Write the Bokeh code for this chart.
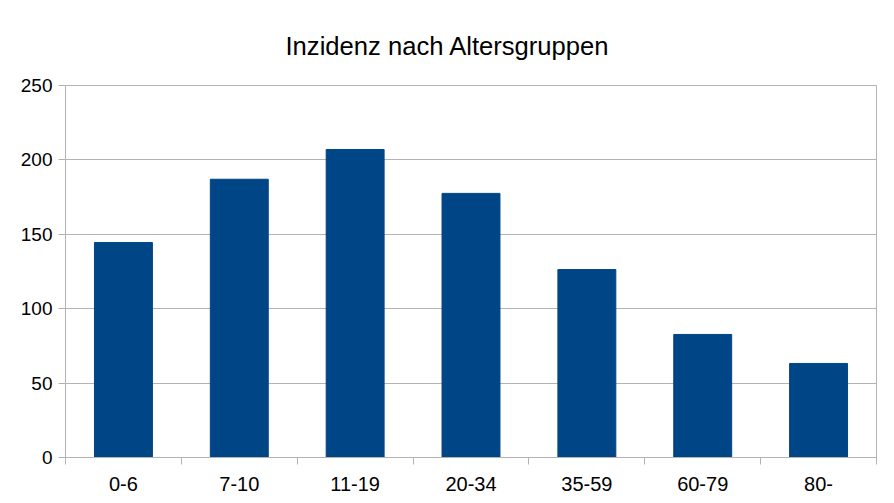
from bokeh.plotting import figure
from bokeh.models import FixedTicker, Range1d, ColumnDataSource
from bokeh.embed import file_html
from bokeh.resources import INLINE

categories = ["0-6", "7-10", "11-19", "20-34", "35-59", "60-79", "80-"]
values = [144.5, 187, 207, 177.5, 126.3, 82.7, 63.2]
y_ticks = [0, 50, 100, 150, 200, 250]

xpos = [i + 0.5 for i in range(len(categories))]
src = ColumnDataSource(dict(x=xpos, top=values, cat=categories))

GRID = "#b3b3b3"
FONT = "Liberation Sans"

p = figure(width=886, height=495, output_backend="svg", toolbar_location=None,
           x_range=Range1d(0, len(categories)), y_range=Range1d(0, 250),
           min_border_left=65, min_border_right=10, min_border_top=85, min_border_bottom=38,
           title="Inzidenz nach Altersgruppen")
p.frame_width = 811
p.frame_height = 372

p.vbar(x="x", top="top", width=0.5, source=src, color="#004586")

p.title.text_font = FONT
p.title.text_font_size = "25.6px"
p.title.text_font_style = "normal"
p.title.text_color = "#000000"
p.title.align = "left"
p.title.offset = 220
p.title.standoff = 52

p.outline_line_color = GRID
p.background_fill_color = "white"
p.border_fill_color = "white"

# y axis
p.yaxis.ticker = FixedTicker(ticks=y_ticks, minor_ticks=[])
p.yaxis.axis_line_color = GRID
p.yaxis.major_tick_line_color = GRID
p.yaxis.major_tick_out = 7
p.yaxis.major_tick_in = 0
p.yaxis.minor_tick_line_color = None
p.yaxis.major_label_text_font = FONT
p.yaxis.major_label_text_font_size = "19px"
p.yaxis.major_label_text_color = "#000000"
p.yaxis.major_label_standoff = 6

# x axis
p.xaxis.ticker = FixedTicker(ticks=xpos, minor_ticks=list(range(len(categories) + 1)))
p.xaxis.major_label_overrides = {x: c for x, c in zip(xpos, categories)}
p.xaxis.axis_line_color = GRID
p.xaxis.major_tick_line_color = None
p.xaxis.major_tick_out = 0
p.xaxis.major_tick_in = 0
p.xaxis.minor_tick_line_color = GRID
p.xaxis.minor_tick_out = 7
p.xaxis.minor_tick_in = 0
p.xaxis.major_label_text_font = FONT
p.xaxis.major_label_text_font_size = "20px"
p.xaxis.major_label_text_color = "#000000"
p.xaxis.major_label_standoff = 12

p.xgrid.grid_line_color = None
p.ygrid.grid_line_color = GRID
p.ygrid.ticker = FixedTicker(ticks=y_ticks)

open("out.html", "w").write(file_html(p, INLINE))
